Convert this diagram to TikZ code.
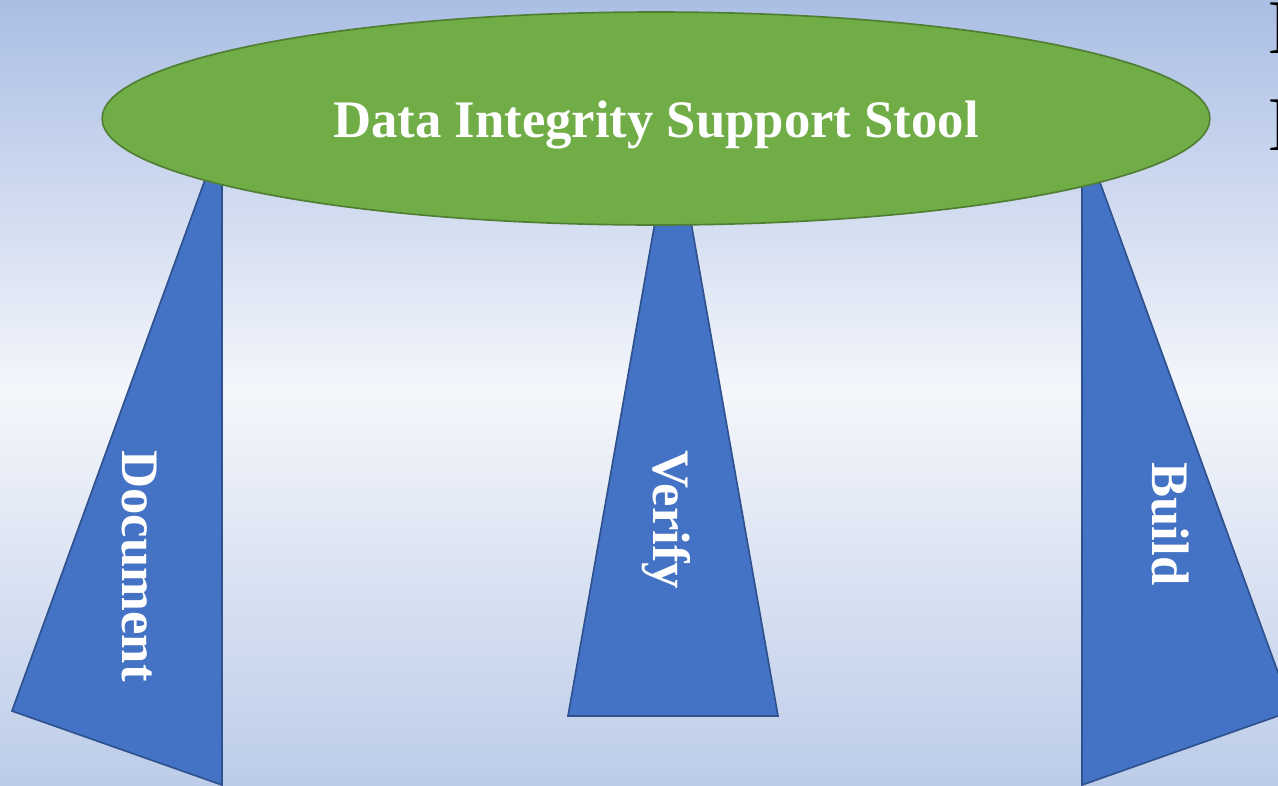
\documentclass[tikz,border=0pt]{standalone}
\usepackage{fontspec}
\setmainfont{Liberation Serif}
\usetikzlibrary{positioning, shapes.geometric}

\definecolor{skytop}{HTML}{AABEE4}
\definecolor{skymid}{HTML}{F4F6FB}
\definecolor{skybot}{HTML}{BCCCE8}
\definecolor{seatfill}{HTML}{70AD47}
\definecolor{seatline}{HTML}{507E32}
\definecolor{legfill}{HTML}{4472C4}
\definecolor{legline}{HTML}{2F528F}

\begin{document}
\begin{tikzpicture}[x=0.02cm, y=-0.02cm,
    leg/.style={fill=legfill, draw=legline, line width=0.95pt, line join=miter},
    seat/.style={ellipse, fill=seatfill, draw=seatline, line width=0.95pt,
                 minimum width=22.16cm, minimum height=4.26cm, inner sep=0pt},
    lbl/.style={text=white, inner sep=0pt, font=\fontsize{30}{36}\selectfont\bfseries},
    edgeglyph/.style={inner sep=0pt, anchor=base west, font=\fontsize{44}{50}\selectfont}]
  \useasboundingbox (0,0) rectangle (1278,785);
  \clip (0,0) rectangle (1278,785);

  % Background
  \shade[top color=skytop, bottom color=skybot, middle color=skymid]
    (0,0) rectangle (1278,785);

  % Legs (drawn behind the seat)
  \draw[leg] (222,133) -- (12,711) -- (222,785) -- cycle;
  \draw[leg] (673,120) -- (568,716) -- (778,716) -- cycle;
  \draw[leg] (1082,133) -- (1292,711) -- (1082,785) -- cycle;

  % Seat
  \node[seat] (seat) at (656,118.5) {};
  \node[lbl, anchor=base] (title) at (656,137) {Data Integrity Support Stool};

  % Leg labels
  \node[lbl, anchor=base, rotate=-90] (document) at (122,566) {Document};
  \node[lbl, anchor=base, rotate=-90] (verify) at (653,520) {Verify};
  \node[lbl, anchor=base, rotate=-90] (build) at (1152,524) {Build};

  % Cut-off letters at the right edge
  \node[edgeglyph] (edgeA) at (1268,53) {D};
  \node[edgeglyph] (edgeB) at (1268,150) {D};
\end{tikzpicture}
\end{document}
